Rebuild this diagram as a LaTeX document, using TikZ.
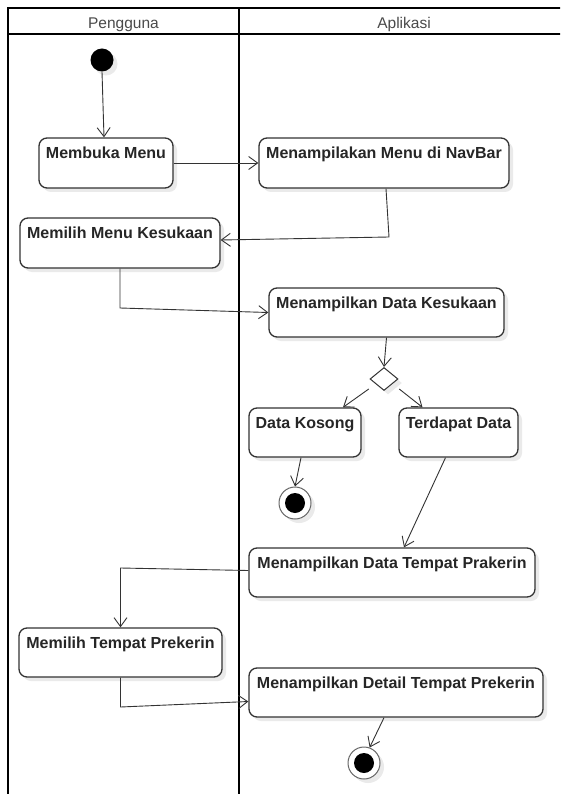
\documentclass[tikz,border=0pt]{standalone}
\usepackage{fontspec}
\setmainfont{Liberation Sans}
\usetikzlibrary{arrows.meta,shapes.geometric,shadows}
\definecolor{edgec}{HTML}{333333}
\definecolor{hdrc}{HTML}{4A4A4A}
\definecolor{shadec}{HTML}{EAEAEA}
\definecolor{ringc}{HTML}{666666}
\tikzset{
  act/.style={draw=edgec, line width=1.3pt, rounded corners=8pt, fill=white,
    drop shadow={shadow xshift=4pt, shadow yshift=-4pt, fill=shadec, opacity=1}, inner sep=0pt},
  lbl/.style={anchor=base, font=\fontsize{16}{19}\selectfont\bfseries, text=black!85, inner sep=0pt},
  flow/.style={draw=edgec, line width=0.9pt, -{Straight Barb[length=9pt,width=13pt,line width=0.9pt]}},
  lane/.style={line width=2pt, draw=black},
  hdrtxt/.style={anchor=base, font=\fontsize{15.5}{18}\selectfont, text=hdrc, inner sep=0pt},
  startnode/.style={circle, fill=black, minimum size=23pt, inner sep=0pt,
    drop shadow={shadow xshift=4pt, shadow yshift=-4pt, fill=shadec, opacity=1}},
  finalring/.style={circle, draw=ringc, line width=1pt, fill=white, minimum size=32pt, inner sep=0pt,
    drop shadow={shadow xshift=4pt, shadow yshift=-4pt, fill=shadec, opacity=1}},
  finaldot/.style={circle, fill=black, minimum size=20pt, inner sep=0pt},
  decision/.style={diamond, draw=edgec, line width=1pt, fill=white, minimum width=28pt, minimum height=23pt, inner sep=0pt,
    drop shadow={shadow xshift=4pt, shadow yshift=-4pt, fill=shadec, opacity=1}}
}
\begin{document}
\begin{tikzpicture}[x=1pt,y=-1pt]
\useasboundingbox (0,0) rectangle (560,794);
\fill[white] (0,0) rectangle (560,794);
\clip (0,0) rectangle (560,794);

% swimlanes
\draw[lane] (8,8.5) -- (575,8.5);
\draw[lane] (8,34) -- (575,34);
\draw[lane] (8,7.5) -- (8,800);
\draw[lane] (239,7.5) -- (239,800);
\node[hdrtxt] (h1) at (123.5,28.5) {Pengguna};
\node[hdrtxt] (h2) at (404,28.5) {Aplikasi};

% start
\node[startnode] (s) at (102,60) {};

% activities
\node[act, minimum width=134pt, minimum height=50pt] (mm) at (106,163) {};
\node[lbl] (mm-t) at ([yshift=-21.5pt]mm.north) {Membuka Menu};

\node[act, minimum width=250pt, minimum height=50pt] (nav) at (384,163) {};
\node[lbl] (nav-t) at ([yshift=-21.5pt]nav.north) {Menampilakan Menu di NavBar};

\node[act, minimum width=200pt, minimum height=50pt] (mmk) at (120,243) {};
\node[lbl] (mmk-t) at ([yshift=-21.5pt]mmk.north) {Memilih Menu Kesukaan};

\node[act, minimum width=235pt, minimum height=49pt] (mdk) at (386.5,312.5) {};
\node[lbl] (mdk-t) at ([yshift=-21.5pt]mdk.north) {Menampilkan Data Kesukaan};

\node[decision] (dia) at (384,379) {};

\node[act, minimum width=112pt, minimum height=49pt] (dk) at (305,432.5) {};
\node[lbl] (dk-t) at ([yshift=-21.5pt]dk.north) {Data Kosong};

\node[act, minimum width=119pt, minimum height=49pt] (td) at (458.5,432.5) {};
\node[lbl] (td-t) at ([yshift=-21.5pt]td.north) {Terdapat Data};

\node[finalring] (f1) at (295,503) {};
\node[finaldot] (f1d) at (f1.center) {};

\node[act, minimum width=286pt, minimum height=49pt] (dtp) at (392,572.5) {};
\node[lbl] (dtp-t) at ([yshift=-21.5pt]dtp.north) {Menampilkan Data Tempat Prakerin};

\node[act, minimum width=203pt, minimum height=49pt] (mtp) at (120.5,652.5) {};
\node[lbl] (mtp-t) at ([yshift=-21.5pt]mtp.north) {Memilih Tempat Prekerin};

\node[act, minimum width=294pt, minimum height=49pt] (det) at (396,692.5) {};
\node[lbl] (det-t) at ([yshift=-21.5pt]det.north) {Menampilkan Detail Tempat Prekerin};

\node[finalring] (f2) at (364,763) {};
\node[finaldot] (f2d) at (f2.center) {};

% bend points
\coordinate (c1) at (389,237);
\coordinate (c2) at (120,308);
\coordinate (c3) at (120.5,568);
\coordinate (c4) at (120.5,707);

% flows
\draw[flow] (s.south) -- ([xshift=-2pt]mm.north);
\draw[flow] (mm.east) -- (nav.west);
\draw[flow] ([xshift=2pt]nav.south) -- (c1) -- ([yshift=3pt]mmk.east);
\draw[flow] (mmk.south) -- (c2) -- (mdk.west);
\draw[flow] (mdk.south) -- (dia.north);
\draw[flow] ([shift={(-8pt,-4pt)}]dia.south west) -- ([xshift=38pt]dk.north);
\draw[flow] ([shift={(8pt,-4pt)}]dia.south east) -- ([xshift=-36pt]td.north);
\draw[flow] ([xshift=-4pt]dk.south) -- (f1.north);
\draw[flow] ([xshift=-13pt]td.south) -- ([xshift=12pt]dtp.north);
\draw[flow] ([yshift=2pt]dtp.west) -- (c3) -- (mtp.north);
\draw[flow] (mtp.south) -- (c4) -- ([yshift=-9pt]det.west);
\draw[flow] ([xshift=-12pt]det.south) -- (f2.70);
\end{tikzpicture}
\end{document}
